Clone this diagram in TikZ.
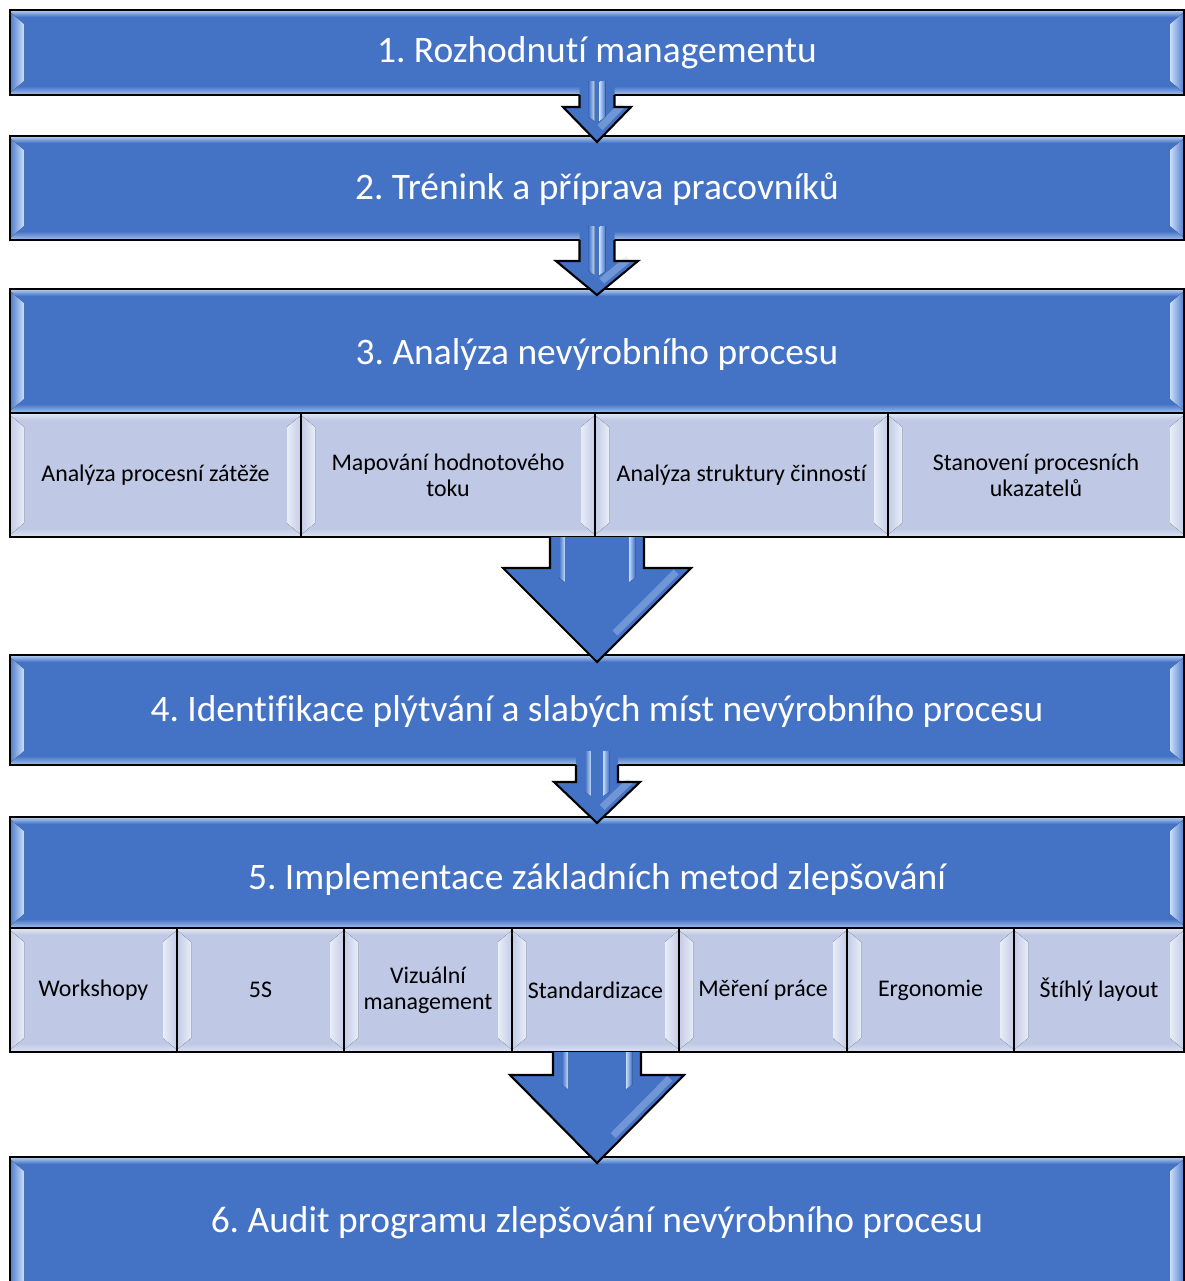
\documentclass[tikz,border=0pt]{standalone}
\usepackage{fontspec}
\setmainfont{Carlito}[Ligatures=NoCommon]
\usetikzlibrary{calc,fit}
\frenchspacing

\definecolor{barblue}{RGB}{68,114,196}
\definecolor{barhi}{RGB}{200,224,250}
\definecolor{subfill}{RGB}{191,200,228}
\definecolor{subhi}{RGB}{232,237,248}
\definecolor{arrowhi}{RGB}{196,220,248}

\tikzset{
  bar/.style={fill=barblue, inner sep=0pt, outer sep=0pt},
  subbox/.style={fill=subfill, inner sep=0pt, outer sep=0pt},
  bartext/.style={text=white, inner sep=0pt, anchor=center,
    font=\fontsize{21.3}{25}\selectfont},
  subtext/.style={text=black, inner sep=0pt, anchor=center, align=center,
    font=\fontsize{13.6}{14.7}\selectfont},
  rim/.style={draw=black, line width=1.2pt},
  flowrim/.style={draw=black, line width=1.2pt, line join=miter},
}

% bevelled edges of a box: #1 node, #2 base colour, #3 light colour
\newcommand\bevel[3]{%
  \fill[top color=#3!75!#2, bottom color=#2]
    ($(#1.north west)+(1,1)$) rectangle ($(#1.north east)+(-1,7)$);
  \fill[top color=#2, bottom color=#3!65!#2]
    ($(#1.south west)+(1,-9)$) rectangle ($(#1.south east)+(-1,-1)$);
  \fill[left color=#2!85!#3, middle color=#2!65!#3, right color=#3]
    ($(#1.north west)+(1,3)$) -- ($(#1.north west)+(14,14)$)
    -- ($(#1.south west)+(14,-14)$) -- ($(#1.south west)+(1,-3)$) -- cycle;
  \fill[left color=#3, middle color=#2!65!#3, right color=#2!85!#3]
    ($(#1.north east)+(-1,3)$) -- ($(#1.north east)+(-14,14)$)
    -- ($(#1.south east)+(-14,-14)$) -- ($(#1.south east)+(-1,-3)$) -- cycle;
  \draw[rim] (#1.north west) rectangle (#1.south east);
}

% block arrow: #1 start point, #2 target anchor, #3 shaft half width,
% #4 head half width, #5 head length, #6 tip overlap, #7 shaft overlap
\newcommand\flowarrow[7]{%
  \coordinate (fa-s) at (#1);
  \coordinate (fa-t) at ($(#2)+(0,#6)$);
  \fill[barblue] ($(fa-s)+(-#3,-#7)$) -- ($(fa-t)+(-#3,-#5)$)
    -- ($(fa-t)+(-#4,-#5)$) -- (fa-t) -- ($(fa-t)+(#4,-#5)$)
    -- ($(fa-t)+(#3,-#5)$) -- ($(fa-s)+(#3,-#7)$) -- cycle;
  \fill[left color=barblue, right color=arrowhi]
    ($(fa-s)+({-#3+9},-#7)$) -- ($(fa-t)+({-#3+9},{-#5+10})$)
    -- ($(fa-t)+({-#3+15},{-#5+14})$) -- ($(fa-s)+({-#3+15},-#7)$) -- cycle;
  \fill[left color=arrowhi, right color=barblue]
    ($(fa-s)+({#3-15},-#7)$) -- ($(fa-t)+({#3-15},{-#5+14})$)
    -- ($(fa-t)+({#3-9},{-#5+10})$) -- ($(fa-s)+({#3-9},-#7)$) -- cycle;
  \fill[arrowhi, opacity=.35]
    ($(fa-t)+({0.9*#4-3},{-0.9*#5-3})$) -- ($(fa-t)+({0.25*#4-3},{-0.25*#5-3})$)
    -- ($(fa-t)+({0.25*#4-8},{-0.25*#5-8})$) -- ($(fa-t)+({0.9*#4-8},{-0.9*#5-8})$) -- cycle;
  \draw[flowrim] ($(fa-s)+(-#3,0)$) -- ($(fa-t)+(-#3,-#5)$)
    -- ($(fa-t)+(-#4,-#5)$) -- (fa-t) -- ($(fa-t)+(#4,-#5)$)
    -- ($(fa-t)+(#3,-#5)$) -- ($(fa-s)+(#3,0)$);
}

\begin{document}
\begin{tikzpicture}[x=0.02cm, y=-0.02cm]
  \useasboundingbox[fill=white] (0,0) rectangle (1185,1281);

  % main stages
  \node[bar, fit={(10,10) (1184,95)}] (b1) {};
  \node[bar, fit={(10,136) (1184,240)}] (b2) {};
  \node[bar, fit={(10,289) (1184,413)}] (b3) {};
  \node[bar, fit={(10,655) (1184,765)}] (b4) {};
  \node[bar, fit={(10,817) (1184,928)}] (b5) {};
  \node[bar, fit={(10,1157) (1184,1300)}] (b6) {};

  % analysis steps
  \node[subbox, fit={(10,413) (301,537)}] (s31) {};
  \node[subbox, fit={(301,413) (595,537)}] (s32) {};
  \node[subbox, fit={(595,413) (888,537)}] (s33) {};
  \node[subbox, fit={(888,413) (1184,537)}] (s34) {};

  % improvement methods
  \node[subbox, fit={(10,928) (177,1052)}] (s51) {};
  \node[subbox, fit={(177,928) (344,1052)}] (s52) {};
  \node[subbox, fit={(344,928) (512,1052)}] (s53) {};
  \node[subbox, fit={(512,928) (679,1052)}] (s54) {};
  \node[subbox, fit={(679,928) (847,1052)}] (s55) {};
  \node[subbox, fit={(847,928) (1014,1052)}] (s56) {};
  \node[subbox, fit={(1014,928) (1184,1052)}] (s57) {};

  \foreach \n in {b1,b2,b3,b4,b5,b6} {\bevel{\n}{barblue}{barhi}}
  \foreach \n in {s31,s32,s33,s34,s51,s52,s53,s54,s55,s56,s57} {\bevel{\n}{subfill}{subhi}}

  % captions
  \node[bartext] (t1) at (b1.center) {1. Rozhodnutí managementu};
  \node[bartext] (t2) at ($(b2.center)+(0,1)$) {2. Trénink a příprava pracovníků};
  \node[bartext] (t3) at ($(b3.center)+(0,4)$) {3. Analýza nevýrobního procesu};
  \node[bartext] (t4) at ($(b4.center)+(0,2)$) {4. Identifikace plýtvání a slabých míst nevýrobního procesu};
  \node[bartext] (t5) at ($(b5.center)+(0,7)$) {5. Implementace základních metod zlepšování};
  \node[bartext] (t6) at ($(b6.north)+(0,66)$) {6. Audit programu zlepšování nevýrobního procesu};

  \node[subtext] (u31) at (s31.center) {Analýza procesní zátěže};
  \node[subtext] (u32) at (s32.center) {Mapování hodnotového\\toku};
  \node[subtext] (u33) at (s33.center) {Analýza struktury činností};
  \node[subtext] (u34) at (s34.center) {Stanovení procesních\\ukazatelů};
  \node[subtext] (u51) at (s51.center) {Workshopy};
  \node[subtext] (u52) at (s52.center) {5S};
  \node[subtext] (u53) at (s53.center) {Vizuální\\management};
  \node[subtext] (u54) at (s54.center) {Standardizace};
  \node[subtext] (u55) at (s55.center) {Měření práce};
  \node[subtext] (u56) at (s56.center) {Ergonomie};
  \node[subtext] (u57) at (s57.center) {Štíhlý layout};

  % connectors
  \flowarrow{b1.south}{b2.north}{17.5}{34}{35}{6}{14}
  \flowarrow{b2.south}{b3.north}{17.5}{41}{34}{6}{14}
  \flowarrow{b3.south |- s31.south}{b4.north}{47}{94}{94}{7}{0}
  \flowarrow{b4.south}{b5.north}{21}{43}{41}{6}{14}
  \flowarrow{b5.south |- s51.south}{b6.north}{44}{87}{88}{6}{0}
\end{tikzpicture}
\end{document}
